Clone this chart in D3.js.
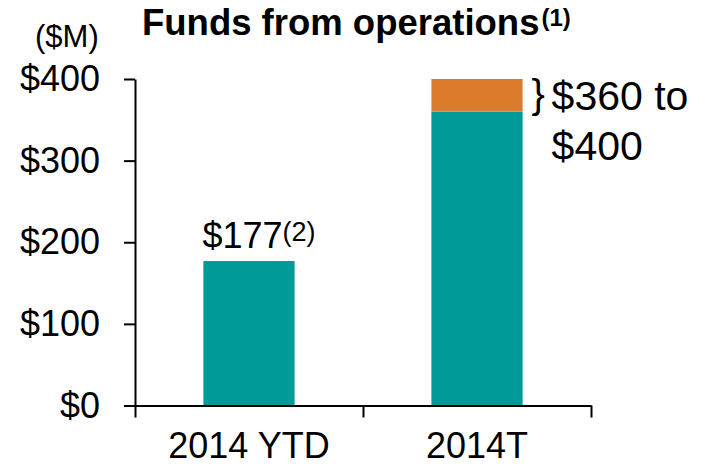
<!DOCTYPE html>
<meta charset="utf-8">

<head>
  <script src="https://d3js.org/d3.v7.min.js"></script>
  <style>
    body { margin: 0; background: #fff; }
    text { font-family: "Liberation Sans", Arial, sans-serif; fill: #000; }
  </style>
</head>

<body>
  <svg id="root"></svg>

  <script>
    // data
    const categories = ["2014 YTD", "2014T"];
    const baseValues = [177, 360];
    const rangeTop = [null, 400];   // upper end of the guidance range
    const yTicks = [0, 100, 200, 300, 400];
    const title = "Funds from operations";
    const titleNote = "(1)";
    const valueNotes = ["(2)", null];

    const W = 707, H = 466;
    const margin = { top: 79, right: 116, bottom: 60.5, left: 135 },
      width = W - margin.left - margin.right,
      height = H - margin.top - margin.bottom;

    const teal = "#009B98", orange = "#DC7B2B";

    const root = d3.select("#root").attr("width", W).attr("height", H);

    // title + unit
    const t = root.append("text")
      .attr("x", 142)
      .attr("y", 35)
      .style("font-size", "36.5px")
      .style("font-weight", "bold")
      .text(title);
    t.append("tspan")
      .attr("dx", 2)
      .attr("dy", -9)
      .style("font-size", "24px")
      .text(titleNote);

    root.append("text")
      .attr("x", 35)
      .attr("y", 47)
      .style("font-size", "31px")
      .text("($M)");

    const svg = root.append("g")
      .attr("transform", `translate(${margin.left},${margin.top})`);

    const y = d3.scaleLinear([0, 400], [height, 0]);
    const x = d3.scaleBand(categories, [0, width])
      .paddingInner(0.6)
      .paddingOuter(0.3);

    // bars
    svg.selectAll(".base")
      .data(categories)
      .join("rect")
      .attr("class", "base")
      .attr("x", d => x(d))
      .attr("width", x.bandwidth())
      .attr("y", (d, i) => y(baseValues[i]))
      .attr("height", (d, i) => y(0) - y(baseValues[i]))
      .attr("fill", teal);

    svg.selectAll(".range")
      .data(categories.filter((d, i) => rangeTop[i] != null))
      .join("rect")
      .attr("class", "range")
      .attr("x", d => x(d))
      .attr("width", x.bandwidth())
      .attr("y", d => y(rangeTop[categories.indexOf(d)]))
      .attr("height", d => {
        const i = categories.indexOf(d);
        return y(baseValues[i]) - y(rangeTop[i]);
      })
      .attr("fill", orange);

    // y axis
    const yAxis = svg.append("g")
      .call(d3.axisLeft(y).tickValues(yTicks).tickSize(11).tickSizeOuter(0)
        .tickPadding(24).tickFormat(d => "$" + d));
    yAxis.selectAll("text").style("font-size", "36px").attr("fill", "#000");

    // x axis: ticks on category boundaries
    const xEdge = d3.scaleLinear([0, categories.length], [0, width]);
    svg.append("g")
      .attr("transform", `translate(0,${height})`)
      .call(d3.axisBottom(xEdge).tickValues(d3.range(categories.length + 1))
        .tickSize(12).tickSizeOuter(0).tickFormat(""));

    const xLabels = svg.append("g")
      .attr("transform", `translate(0,${height})`)
      .call(d3.axisBottom(x).tickSize(0).tickPadding(27));
    xLabels.select(".domain").remove();
    xLabels.selectAll("text").style("font-size", "36px").attr("fill", "#000");

    root.selectAll(".domain, .tick line").attr("stroke", "#000").attr("stroke-width", 2);

    // value labels
    categories.forEach((c, i) => {
      if (rangeTop[i] == null) {
        const lbl = svg.append("text")
          .attr("x", x(c) - 1)
          .attr("y", y(baseValues[i]) - 13)
          .style("font-size", "36px")
          .text("$" + baseValues[i]);
        if (valueNotes[i]) {
          lbl.append("tspan")
            .attr("dy", -7)
            .style("font-size", "27px")
            .text(valueNotes[i]);
        }
      } else {
        const bx = x(c) + x.bandwidth();
        svg.append("text")
          .attr("x", bx + 9)
          .attr("y", y(baseValues[i]) - 4)
          .style("font-size", "40px")
          .text("}");
        svg.append("text")
          .attr("x", bx + 29)
          .attr("y", y(baseValues[i]) - 2)
          .style("font-size", "41px")
          .text("$" + baseValues[i] + " to");
        svg.append("text")
          .attr("x", bx + 29)
          .attr("y", y(baseValues[i]) + 48)
          .style("font-size", "41px")
          .text("$" + rangeTop[i]);
      }
    });
  </script>
</body>
